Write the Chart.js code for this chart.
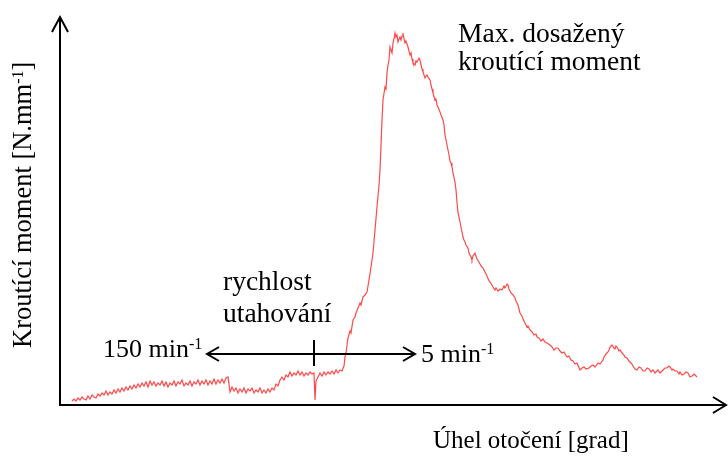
<!DOCTYPE html>
<html lang="cs">
<head>
<meta charset="utf-8">
<title>Kroutící moment</title>
<script src="https://cdn.jsdelivr.net/npm/chart.js@4/dist/chart.umd.min.js"></script>
<style>
  html, body { margin: 0; padding: 0; background: #fff; }
  canvas { display: block; }
</style>
</head>
<body>
<canvas id="c" width="728" height="458"></canvas>
<script>
// Úhel otočení (relative units) of each sample of the tightening record
const angle = [
  11,13,15,17,19,21,23,25,27,29,31,33,35,37,39,41,43,45,47,49,
  51,53,55,57,59,61,63,65,67,69,71,73,75,77,79,81,83,85,87,89,
  91,93,95,97,99,101,103,105,107,109,111,113,115,117,119,121,123,125,127,129,
  131,133,135,137,139,141,143,145,147,149,151,153,155,157,159,161,163,165,167,
  169,171,173,175,177,179,181,183,185,187,189,191,193,195,197,199,201,203,205,207,209,211,213,
  215,217,219,221,223,225,227,229,231,233,235,237,239,241,243,245,247,249,251,253,
  254,255,257,259,261,263,265,267,269,271,273,275,277,279,281,283,
  284,285,287,289,290,292,294,295,297,299,300,302,304,306,308,310,312,314,316,318,
  319,320,321,322,324,325,326,327,328,329,330,331,332,333,334,335,336,337,338,339,
  340,341,342,343,344,345,347,348,349,350,351,352,354,355,356,358,359,360,361,362,
  364,365,366,367,369,370,371,372,374,375,376,377,379,380,382,383,384,385,387,388,
  389,390,391,392,394,395,396,397,398,399,400,402,403,404,405,407,408,409,410,411,
  412,414,415,416,418,419,420,422,423,425,426,428,429,431,432,434,435,437,439,441,
  443,444,446,447,448,450,452,454,455,457,458,459,461,462,464,466,467,469,471,473,
  475,476,478,480,482,484,486,489,491,493,495,497,499,501,503,506,508,510,512,514,
  516,519,521,523,525,528,530,532,534,537,539,542,543,545,547,548,549,551,553,554,
  555,556,558,559,561,563,564,566,568,569,571,572,574,576,578,580,582,584,586,588,
  590,592,594,595,597,599,601,602,604,606,608,609,611,612,614,616,618,619,621,623,
  625,627,629,631,633,634,636
];
// Kroutící moment (relative units) at each sample
const torque = [
  4,6,4,7,5,8,6,5,9,6,10,8,7,11,9,12,10,14,10,13,
  11,15,12,16,13,17,14,18,15,19,16,20,17,21,18,22,19,23,18,24,
  20,23,19,22,20,24,19,23,18,22,20,24,19,23,21,25,19,22,20,24,
  19,23,21,25,20,24,21,25,20,24,21,26,21,25,22,26,22,27,28,
  13,18,14,17,12,16,13,17,12,16,14,17,12,15,13,17,12,15,12,16,13,17,15,
  21,19,25,28,25,30,28,33,29,32,30,34,30,33,29,32,30,33,31,32,
  5,24,28,32,29,33,30,33,31,34,31,35,32,35,34,39,
  48,52,67,74,72,85,88,92,97,102,100,108,110,113,125,138,152,175,198,220,
  235,260,285,305,318,316,332,340,345,358,355,352,362,366,372,368,370,363,366,368,
  365,369,372,366,362,364,358,354,350,352,346,342,340,344,343,347,345,340,336,333,
  327,329,330,328,325,320,316,312,305,306,300,298,293,290,285,280,270,265,255,250,
  244,242,238,232,223,215,203,192,188,183,178,168,165,163,160,157,152,150,148,145,
  149,152,149,146,143,141,139,137,135,131,129,124,123,120,118,115,117,114,116,115,
  119,117,121,120,116,112,110,107,104,100,96,92,89,86,82,78,79,75,73,70,
  71,68,67,64,66,63,62,60,58,55,57,57,54,52,53,48,49,45,44,41,
  42,35,37,38,36,37,39,40,38,42,41,45,48,51,53,55,58,60,57,56,
  59,58,54,55,52,50,48,47,44,43,41,39,36,35,38,37,34,34,37,36,
  33,35,32,33,35,32,34,35,37,37,39,38,35,36,34,34,31,33,30,31,
  33,32,28,29,31,30,28
];

// Axis extents and annotation anchors (same units as the series)
const angleMax = 665;
const torqueMax = 388;
const speedChangeAngle = 253;
const speedArrowFrom = 146;
const speedArrowTo = 354;
const speedArrowLevel = 51;

const points = angle.map((a, i) => ({ x: a, y: torque[i] }));

const SERIF = "'Liberation Serif', 'Times New Roman', serif";

function textWithSup(ctx, parts, x, y, size) {
  // parts: [text, isSuperscript]
  let cx = x;
  for (const [t, sup] of parts) {
    ctx.font = (sup ? Math.round(size * 0.62) : size) + 'px ' + SERIF;
    ctx.fillText(t, cx, sup ? y - 8 : y);
    cx += ctx.measureText(t).width;
  }
}

function openHead(ctx, tipX, tipY, dirX, dirY, len, half) {
  const bx = tipX - dirX * len, by = tipY - dirY * len;
  const px = -dirY, py = dirX;
  ctx.beginPath();
  ctx.moveTo(bx + px * half, by + py * half);
  ctx.lineTo(tipX, tipY);
  ctx.lineTo(bx - px * half, by - py * half);
  ctx.stroke();
}

const decorations = {
  id: 'decorations',
  afterDatasetsDraw(chart) {
    const { ctx, chartArea: ca, scales } = chart;
    const xs = scales.x, ys = scales.y;
    ctx.save();
    ctx.strokeStyle = '#000';
    ctx.fillStyle = '#000';
    ctx.lineWidth = 2;
    ctx.lineCap = 'butt';
    ctx.lineJoin = 'miter';

    // axes with open arrowheads
    const ox = ca.left - 1, oy = ca.bottom;
    ctx.beginPath();
    ctx.moveTo(ox, oy);
    ctx.lineTo(ox, ca.top);
    ctx.moveTo(ox - 1, oy);
    ctx.lineTo(ca.right, oy);
    ctx.stroke();
    openHead(ctx, ox, ca.top, 0, -1, 15, 8);
    openHead(ctx, ca.right, oy, 1, 0, 13, 8);

    // speed change: double arrow and marker
    const ay = ys.getPixelForValue(speedArrowLevel);
    const ax1 = xs.getPixelForValue(speedArrowFrom);
    const ax2 = xs.getPixelForValue(speedArrowTo);
    ctx.beginPath();
    ctx.moveTo(ax1, ay);
    ctx.lineTo(ax2, ay);
    ctx.stroke();
    openHead(ctx, ax1, ay, -1, 0, 12, 7);
    openHead(ctx, ax2, ay, 1, 0, 12, 7);
    const mx = xs.getPixelForValue(speedChangeAngle);
    ctx.beginPath();
    ctx.moveTo(mx, ay - 14);
    ctx.lineTo(mx, ay + 12);
    ctx.stroke();

    // labels
    ctx.textBaseline = 'alphabetic';
    ctx.textAlign = 'left';
    textWithSup(ctx, [['150 min', false], ['-1', true]], 103, 357, 26);
    textWithSup(ctx, [['5 min', false], ['-1', true]], 421, 362, 26);
    ctx.font = '27.5px ' + SERIF;
    ctx.fillText('rychlost', 223, 290);
    ctx.fillText('utahování', 223, 322);
    ctx.fillText('Max. dosažený', 458, 42);
    ctx.fillText('kroutící moment', 458, 70);
    ctx.font = '25px ' + SERIF;
    ctx.fillText('Úhel otočení [grad]', 433, 448);

    // vertical axis title
    ctx.save();
    ctx.translate(31, 348);
    ctx.rotate(-Math.PI / 2);
    textWithSup(ctx, [['Kroutící moment [N.mm', false], ['-1', true], [']', false]], 0, 0, 26.5);
    ctx.restore();

    ctx.restore();
  }
};

new Chart(document.getElementById('c'), {
  type: 'line',
  data: {
    datasets: [{
      data: points,
      borderColor: 'rgba(255, 40, 40, 0.85)',
      borderWidth: 1.2,
      pointRadius: 0,
      tension: 0,
      fill: false
    }]
  },
  options: {
    responsive: false,
    devicePixelRatio: 1,
    animation: false,
    events: [],
    layout: { padding: { left: 61, right: 2, top: 17, bottom: 53 } },
    plugins: { legend: { display: false }, tooltip: { enabled: false } },
    scales: {
      x: { type: 'linear', display: false, min: 0, max: angleMax },
      y: { type: 'linear', display: false, min: 0, max: torqueMax }
    }
  },
  plugins: [decorations]
});
</script>
</body>
</html>
